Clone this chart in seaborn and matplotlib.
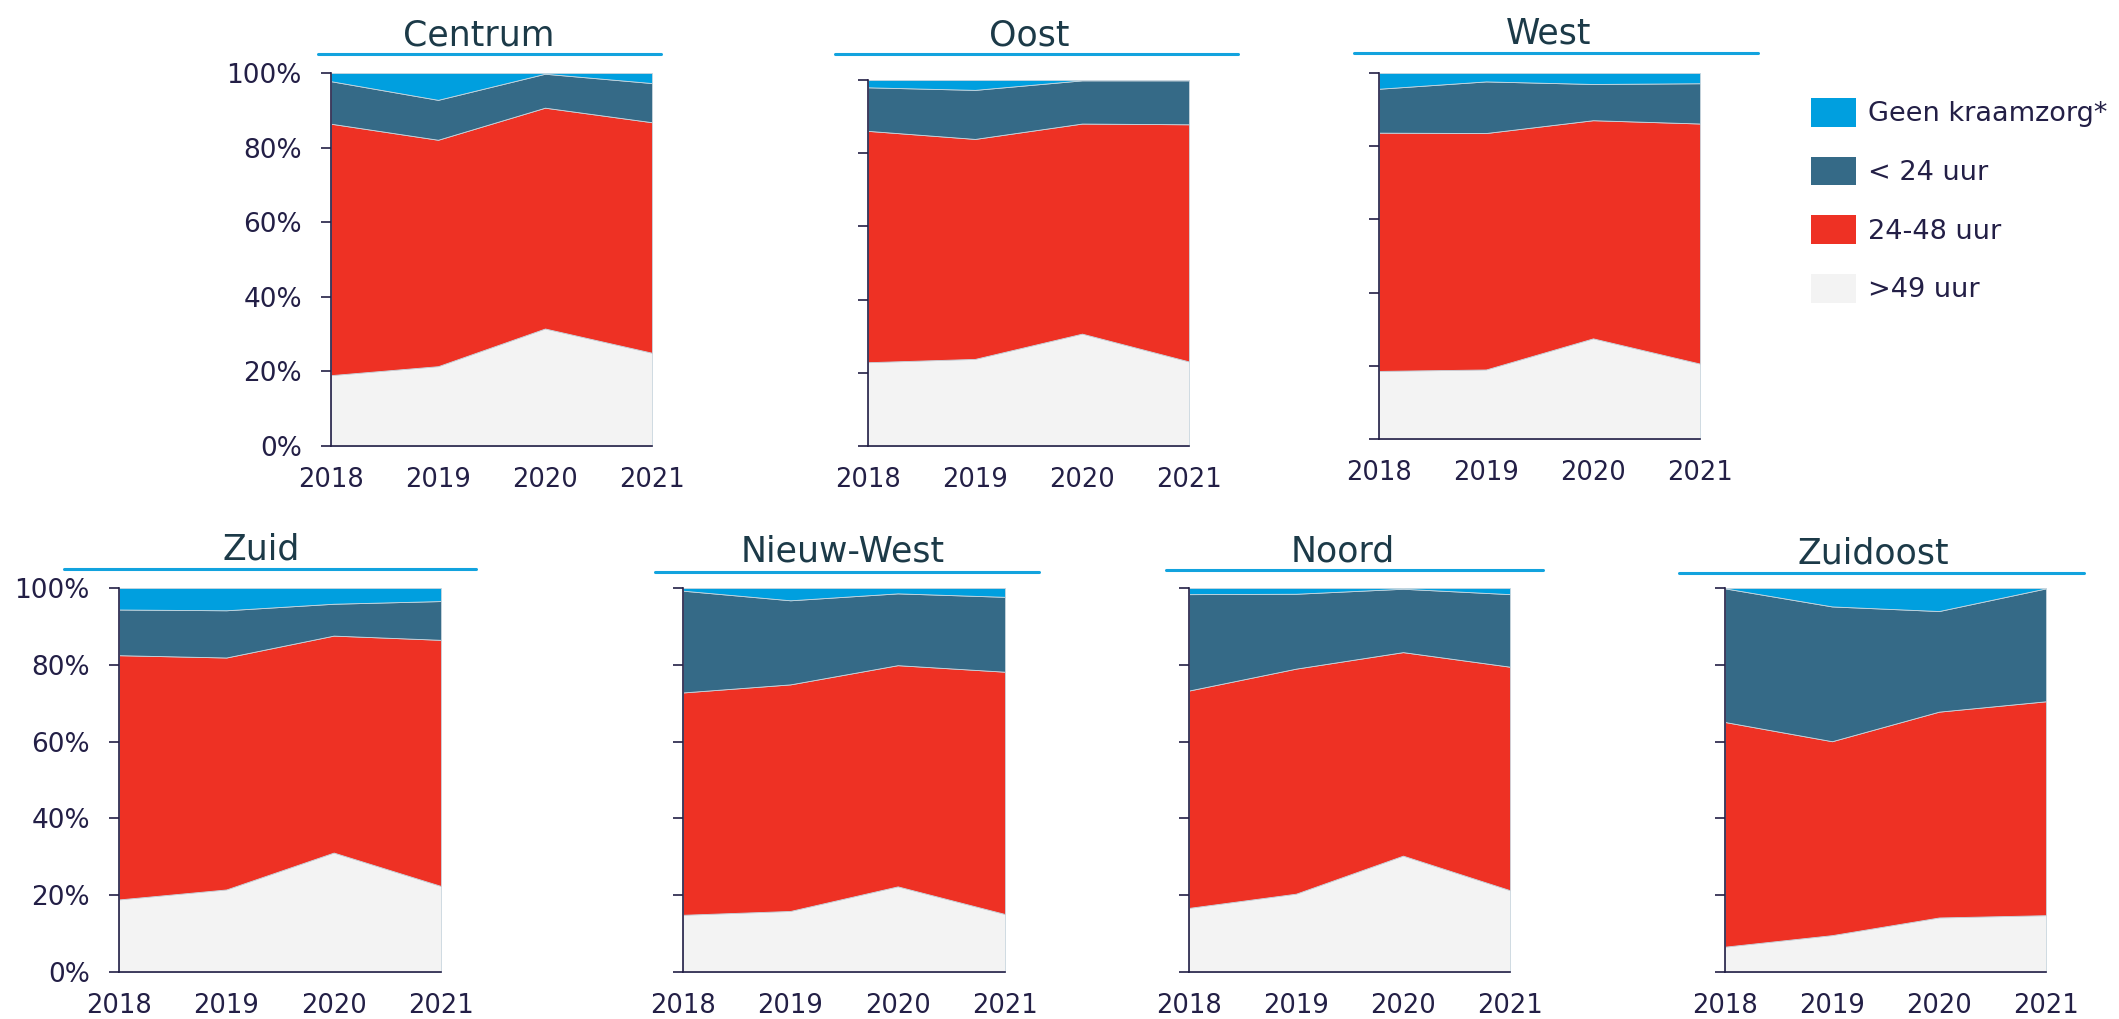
import matplotlib
matplotlib.use("Agg")
import matplotlib.pyplot as plt
from matplotlib.lines import Line2D
from matplotlib.patches import Patch
import seaborn as sns

# Kraamzorg duration per Amsterdam district, share of births (%)
years = [2018, 2019, 2020, 2021]
districts = ["Centrum", "Oost", "West", "Zuid", "Nieuw-West", "Noord", "Zuidoost"]
series_labels = [">49 uur", "24-48 uur", "< 24 uur", "Geen kraamzorg*"]

meer_dan_49 = [
    [19.0, 21.4, 31.5, 25.0],   # Centrum
    [22.9, 23.8, 30.7, 23.1],   # Oost
    [18.6, 19.0, 27.5, 20.6],   # West
    [18.9, 21.5, 31.1, 22.4],   # Zuid
    [14.9, 15.9, 22.3, 15.1],   # Nieuw-West
    [16.7, 20.4, 30.3, 21.3],   # Noord
    [6.6, 9.6, 14.2, 14.8],     # Zuidoost
]
tussen_24_48 = [
    [67.4, 60.7, 59.2, 61.8],
    [63.2, 60.1, 57.4, 64.8],
    [65.1, 64.6, 59.6, 65.6],
    [63.6, 60.4, 56.5, 64.1],
    [57.9, 59.0, 57.6, 63.1],
    [56.6, 58.6, 53.0, 58.2],
    [58.5, 50.5, 53.6, 55.7],
]
minder_dan_24 = [
    [11.4, 10.7, 9.1, 10.5],
    [11.9, 13.4, 11.8, 12.0],
    [12.0, 14.1, 9.9, 11.0],
    [11.9, 12.3, 8.3, 10.1],
    [26.5, 21.9, 18.7, 19.5],
    [25.1, 19.5, 16.5, 18.9],
    [34.8, 35.1, 26.2, 29.4],
]
geen_kraamzorg = [
    [2.2, 7.2, 0.2, 2.7],
    [2.0, 2.7, 0.1, 0.1],
    [4.3, 2.3, 3.0, 2.8],
    [5.6, 5.8, 4.1, 3.4],
    [0.7, 3.2, 1.4, 2.3],
    [1.6, 1.5, 0.2, 1.6],
    [0.1, 4.8, 6.0, 0.1],
]
y_ticks = [0, 20, 40, 60, 80, 100]
y_tick_labels = ["0%", "20%", "40%", "60%", "80%", "100%"]

# Layout (pixels on the 2119 x 1019 canvas)
W, H = 2119, 1019
axes_px = [  # left, right, top, bottom
    (331, 652, 73, 446),
    (868, 1189, 80, 446),
    (1379, 1700, 73, 439),
    (119, 441, 588, 972),
    (683, 1005, 588, 972),
    (1189, 1510, 588, 972),
    (1725, 2046, 588, 972),
]
title_px = [  # center x, baseline y
    (479, 45), (1029, 45), (1549, 43),
    (261, 559), (843, 562), (1343, 562), (1873, 564),
]
rule_px = [  # x0, x1, y
    (318, 661, 54), (835, 1238, 54), (1354, 1758, 53),
    (64, 476, 569), (655, 1039, 572), (1166, 1543, 570), (1679, 2084, 573),
]
show_y_labels = [True, False, False, True, False, False, False]

colors = ["#f3f3f3", "#ee3124", "#356a87", "#009fdf"]
ink = "#231f46"
title_ink = "#1c3a48"
rule_color = "#12a3de"

sns.set_theme(style="white")
plt.rcParams["font.family"] = ["DejaVu Sans"]

fig = plt.figure(figsize=(W / 100, H / 100), dpi=100)

for i, name in enumerate(districts):
    l, r, t, b = axes_px[i]
    ax = fig.add_axes([l / W, 1 - b / H, (r - l) / W, (b - t) / H])
    ax.stackplot(
        years,
        meer_dan_49[i], tussen_24_48[i], minder_dan_24[i], geen_kraamzorg[i],
        colors=colors, edgecolor="#c9d6de", linewidth=0.6,
    )
    ax.set_xlim(years[0], years[-1])
    ax.set_ylim(0, 100)
    ax.set_xticks(years)
    ax.set_xticklabels([str(y) for y in years])
    ax.set_yticks(y_ticks)
    ax.set_yticklabels(y_tick_labels)
    ax.set_facecolor("white")
    sns.despine(ax=ax)
    for side in ("left", "bottom"):
        ax.spines[side].set_color(ink)
        ax.spines[side].set_linewidth(1.2)
    ax.tick_params(axis="y", which="both", left=True, length=7, width=1.2,
                   color=ink, pad=14, labelsize=19, labelcolor=ink,
                   labelleft=show_y_labels[i])
    ax.tick_params(axis="x", which="both", bottom=False, length=0, pad=15,
                   labelsize=18.5, labelcolor=ink)
    ax.grid(False)

    cx, by = title_px[i]
    fig.text(cx / W, 1 - by / H, name, ha="center", va="baseline",
             fontsize=25, color=title_ink)
    x0, x1, ry = rule_px[i]
    fig.add_artist(Line2D([x0 / W, x1 / W], [1 - ry / H, 1 - ry / H],
                          transform=fig.transFigure, color=rule_color, lw=2.2))

handles = [Patch(facecolor=c, edgecolor="none") for c in colors[::-1]]
fig.legend(handles, series_labels[::-1], loc="upper left",
           bbox_to_anchor=(1811 / W, 1 - 98 / H), frameon=False,
           fontsize=19.5, handlelength=1.66, handleheight=1.25,
           labelspacing=1.08, handletextpad=0.44, borderpad=0,
           borderaxespad=0, labelcolor=ink)

fig.savefig("out.png", dpi=100, facecolor="white")
